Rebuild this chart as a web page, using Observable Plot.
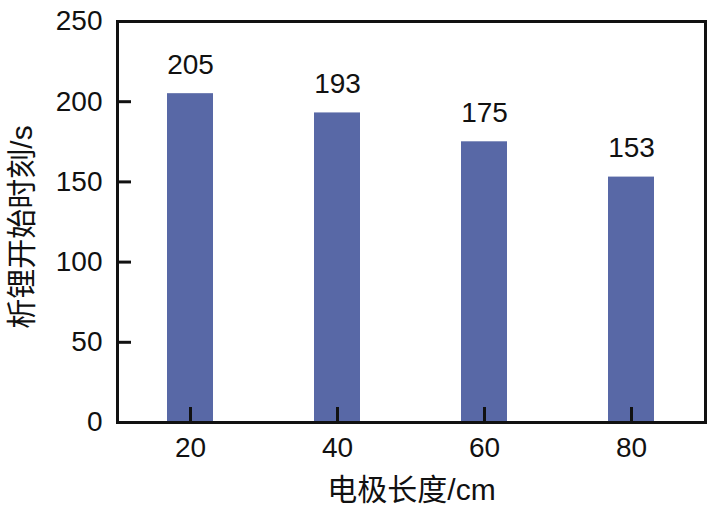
<!DOCTYPE html>
<html><head><meta charset="utf-8">
<script src="https://cdn.jsdelivr.net/npm/d3@7"></script>
<script src="https://cdn.jsdelivr.net/npm/@observablehq/plot@0.6"></script>
<style>body{margin:0;background:#fff}</style>
</head><body><div id="chart"></div>
<script>
const lengths = [20, 40, 60, 80];
const times = [205, 193, 175, 153];
const yTicks = [0, 50, 100, 150, 200, 250];
const xLabel = "电极长度/cm";
const yLabel = "析锂开始时刻/s";
const data = lengths.map((l, i) => ({len: l, time: times[i]}));
const font = "'Liberation Sans', Arial, 'Noto Sans CJK SC', sans-serif";
const frameW = 714 - 117 - 9, frameH = 516 - 21 - 94;
const chart = Plot.plot({
  width: 714, height: 516,
  marginLeft: 117, marginRight: 9, marginTop: 21, marginBottom: 94,
  style: {fontFamily: font, background: "#fff", color: "#111", overflow: "visible"},
  x: {type: "band", domain: lengths, paddingInner: 0.687, paddingOuter: 0.3435},
  y: {domain: [0, 250]},
  marks: [
    Plot.barY(data, {x: "len", y: "time", fill: "#5868a6"}),
    Plot.text(data, {x: "len", y: "time", text: d => String(d.time), dy: -29, lineAnchor: "middle", fontSize: 28, fill: "#111"}),
    Plot.axisY({ticks: yTicks, tickSize: 0, tickPadding: 15, fontSize: 28, label: null, fill: "#111"}),
    Plot.tickY(yTicks, {y: d => d, insetRight: frameW - 14, stroke: "#111", strokeWidth: 3}),
    Plot.axisX({tickSize: 0, tickPadding: 15, fontSize: 28, label: null, fill: "#111"}),
    Plot.tickX(lengths, {x: d => d, insetTop: frameH - 15, stroke: "#111", strokeWidth: 3}),
    Plot.frame({stroke: "#111", strokeWidth: 3}),
    Plot.text([xLabel], {frameAnchor: "bottom", dy: 68, lineAnchor: "middle", fontSize: 30, fill: "#111"}),
    Plot.text([yLabel], {frameAnchor: "left", dx: -95, dy: 5, rotate: -90, textAnchor: "middle", lineAnchor: "middle", fontSize: 30, fill: "#111"})
  ]
});
document.getElementById("chart").appendChild(chart);
</script>
</body></html>
